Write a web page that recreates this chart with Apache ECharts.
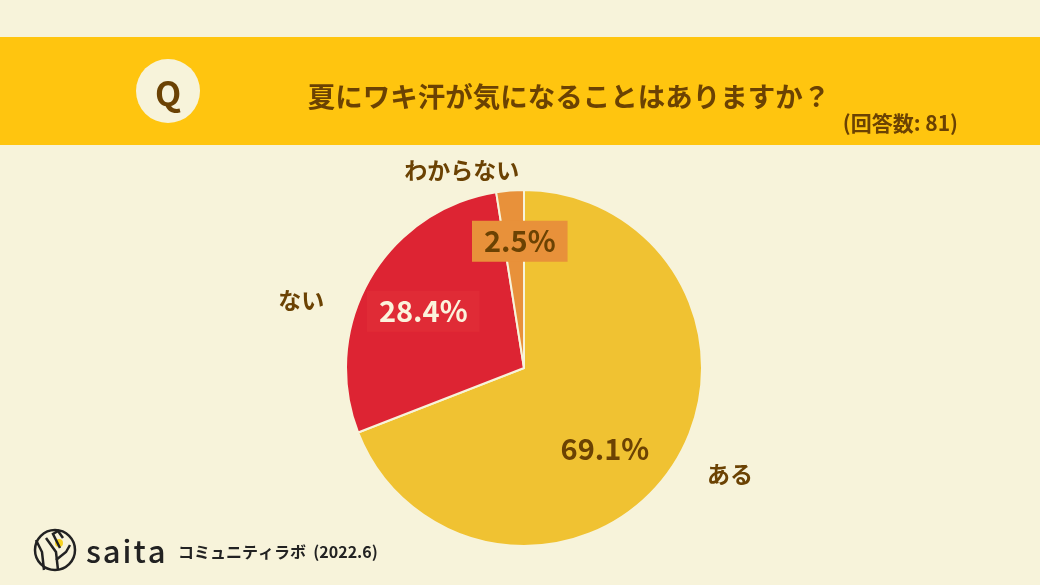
<!DOCTYPE html>
<html><head><meta charset="utf-8">
<script src="https://cdn.jsdelivr.net/npm/echarts@6/dist/echarts.min.js"></script>
<style>html,body{margin:0;padding:0;background:#F7F3DA}#c{width:1040px;height:585px}</style>
</head><body><div id="c"></div>
<script>
const categories = ['ある', 'ない', 'わからない'];
const values = [69.1, 28.4, 2.5];
const sliceColors = ['#F0C232', '#DD2433', '#E8913A'];
const pctColors = ['#6B4203', '#FBF3DC', '#6B4203'];
const pctBoxes = ['transparent', '#E02B36', '#E8913A'];
const pctOffsets = [[5, 29], [-21, -11], [3, -35]];
const catOffsets = [[130, 54], [-143, -22], [-55, -106]];
const titleText = '夏にワキ汗が気になることはありますか？';
const subText = '(回答数: 81)';

const brown = '#6B4203';
const font = '"Noto Sans CJK JP", "Noto Sans", sans-serif';

const chart = echarts.init(document.getElementById('c'));
const pieBase = {
  type: 'pie', center: [524, 368], radius: 178, startAngle: 90, clockwise: true,
  silent: true, animation: false, labelLine: { show: false }
};
chart.setOption({
  backgroundColor: '#F7F3DA',
  graphic: [
    { type: 'rect', shape: { x: 0, y: 37, width: 1040, height: 108 }, style: { fill: '#FFC50F' }, z: -1 },
    { type: 'circle', shape: { cx: 168, cy: 91, r: 32 }, style: { fill: '#F7F3DA' } },
    { type: 'text', x: 168, y: 93, style: { text: 'Q', fill: brown, font: 'bold 34px ' + font, align: 'center', verticalAlign: 'middle' } },
    { type: 'text', x: 569, y: 97, style: { text: titleText, fill: brown, font: 'bold 27.5px ' + font, align: 'center', verticalAlign: 'middle' } },
    { type: 'text', x: 958, y: 123, style: { text: subText, fill: brown, font: 'bold 21px ' + font, align: 'right', verticalAlign: 'middle' } },
    // logo
    { type: 'circle', shape: { cx: 55, cy: 550, r: 20 }, style: { fill: 'none', stroke: '#222', lineWidth: 2.5 } },
    { type: 'circle', shape: { cx: 59, cy: 543, r: 4 }, style: { fill: '#F7D21E' } },
    { type: 'polyline', shape: { points: [[44, 570], [42, 552], [36, 540]] }, style: { stroke: '#222', lineWidth: 2.5, fill: 'none' } },
    { type: 'polyline', shape: { points: [[58, 570], [56, 552], [46, 538]] }, style: { stroke: '#222', lineWidth: 2.5, fill: 'none' } },
    { type: 'polyline', shape: { points: [[56, 560], [66, 552], [70, 545]] }, style: { stroke: '#222', lineWidth: 2.5, fill: 'none' } },
    { type: 'polyline', shape: { points: [[60, 548], [53, 534], [58, 531], [63, 538]] }, style: { stroke: '#222', lineWidth: 2.5, fill: 'none' } },
    { type: 'text', x: 86, y: 551, style: { text: 's\u200Aa\u200Ai\u200At\u200Aa', fill: '#222', font: '500 31px ' + font, verticalAlign: 'middle' } },
    { type: 'text', x: 178, y: 552, style: { text: 'コミュニティラボ  (2022.6)', fill: '#222', font: 'bold 16px ' + font, verticalAlign: 'middle' } }
  ],
  series: [
    Object.assign({}, pieBase, {
      itemStyle: { borderColor: '#F7F3DA', borderWidth: 2 },
      label: { show: true, position: 'inside', formatter: p => p.value.toFixed(1) + '%', fontFamily: font, fontSize: 29, fontWeight: 'bold' },
      data: categories.map((c, i) => ({
        name: c, value: values[i], itemStyle: { color: sliceColors[i] },
        label: { color: pctColors[i], backgroundColor: pctBoxes[i], padding: [7, 12, 5, 12], offset: pctOffsets[i] }
      }))
    }),
    Object.assign({}, pieBase, {
      itemStyle: { color: 'transparent' }, z: 5,
      label: { show: true, position: 'inside', formatter: '{b}', color: brown, fontFamily: font, fontSize: 23, fontWeight: 'bold' },
      data: categories.map((c, i) => ({ name: c, value: values[i], label: { offset: catOffsets[i] } }))
    })
  ]
});
</script></body></html>
